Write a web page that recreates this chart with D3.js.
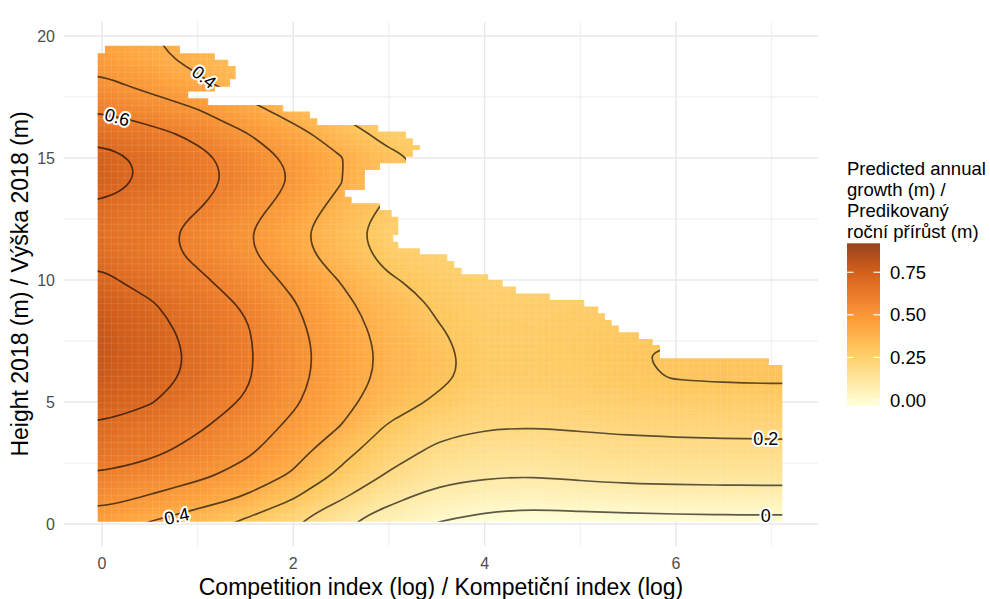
<!DOCTYPE html>
<html><head><meta charset="utf-8">
<script src="https://cdn.jsdelivr.net/npm/d3@7"></script>
<style>
html,body{margin:0;padding:0;background:#fff;}
svg{display:block;font-family:"Liberation Sans",Arial,Helvetica,sans-serif;}
</style></head><body>
<svg id="chart" width="990" height="599"></svg>
<script>
// ---------------- data ----------------
const xGrid = [0,0.5,1,1.5,2,2.5,3,3.5,4,4.5,5,5.5,6,6.5,7];
const yGrid = [0,1,2,3,4,5,6,7,8,9,10,11,12,13,14,15,16,17,18,19,20];
// predicted growth, one row per yGrid value, one column per xGrid value
const growth = [
 [0.445,0.39,0.337,0.277,0.2,0.109,0.047,-0.005,-0.036,-0.046,-0.041,-0.037,-0.034,-0.032,-0.031],
 [0.524,0.485,0.438,0.384,0.298,0.202,0.117,0.065,0.039,0.03,0.04,0.045,0.05,0.052,0.053],
 [0.593,0.556,0.52,0.467,0.388,0.279,0.189,0.13,0.11,0.104,0.118,0.127,0.131,0.133,0.134],
 [0.65,0.624,0.569,0.519,0.44,0.331,0.246,0.182,0.158,0.153,0.166,0.172,0.177,0.179,0.18],
 [0.692,0.652,0.613,0.553,0.48,0.398,0.289,0.231,0.206,0.203,0.209,0.216,0.218,0.221,0.222],
 [0.74,0.706,0.649,0.591,0.513,0.429,0.35,0.285,0.245,0.24,0.25,0.258,0.261,0.264,0.266],
 [0.77,0.742,0.676,0.611,0.53,0.446,0.375,0.322,0.268,0.265,0.272,0.29,0.3035,0.309,0.311],
 [0.785,0.746,0.68,0.614,0.533,0.45,0.378,0.322,0.27,0.268,0.278,0.298,0.304,0.306,0.306],
 [0.78,0.733,0.67,0.608,0.525,0.44,0.368,0.306,0.268,0.266,0.275,0.285,0.292,0.295,0.295],
 [0.76,0.709,0.65,0.589,0.507,0.422,0.351,0.288,0.262,0.26,0.265,0.27,0.275,0.277,0.277],
 [0.715,0.669,0.617,0.552,0.478,0.395,0.31,0.27,0.252,0.25,0.25,0.25,0.25,0.25,0.25],
 [0.682,0.636,0.583,0.518,0.438,0.352,0.271,0.25,0.24,0.235,0.235,0.235,0.235,0.235,0.235],
 [0.665,0.635,0.57,0.508,0.425,0.34,0.253,0.225,0.21,0.21,0.21,0.21,0.21,0.21,0.21],
 [0.69,0.648,0.606,0.54,0.46,0.368,0.283,0.25,0.23,0.21,0.2,0.2,0.2,0.2,0.2],
 [0.74,0.684,0.632,0.571,0.493,0.402,0.316,0.27,0.25,0.22,0.2,0.2,0.2,0.2,0.2],
 [0.735,0.679,0.625,0.56,0.481,0.404,0.322,0.275,0.25,0.22,0.2,0.2,0.2,0.2,0.2],
 [0.668,0.628,0.578,0.504,0.432,0.349,0.265,0.24,0.22,0.2,0.19,0.19,0.19,0.19,0.19],
 [0.59,0.545,0.5,0.432,0.356,0.278,0.21,0.18,0.16,0.16,0.16,0.16,0.16,0.16,0.16],
 [0.52,0.476,0.418,0.359,0.3,0.245,0.2,0.17,0.15,0.14,0.14,0.14,0.14,0.14,0.14],
 [0.47,0.42,0.381,0.323,0.27,0.225,0.185,0.16,0.14,0.13,0.13,0.13,0.13,0.13,0.13],
 [0.43,0.405,0.36,0.31,0.26,0.215,0.175,0.15,0.13,0.12,0.12,0.12,0.12,0.12,0.12]
];
const contourLevels = [0,0.1,0.2,0.3,0.4,0.5,0.6,0.7];
const fillRange = [-0.033, 0.92];
const paletteYlOrBr = ["#ffffd4","#fee391","#fec44f","#fe9929","#ec7014","#cc4c02","#8c2d04"];
// extent of the observed data (staircase outline): bands from the bottom up
const dataLeft = -0.045, dataBottom = 0.09;
const bandTop =   [6.52,6.79,7.34,7.58,7.86,8.13,8.36,8.64,8.91,9.18,9.45,9.73,10.0,10.23,10.50,10.78,11.05,11.30,11.57,11.84,12.59,12.87,13.14,13.41,13.69,14.51,14.78,15.05,15.33,15.53,15.81,16.08,16.35,16.63,16.90,17.17,17.45,17.72,17.92,18.23,18.77,19.02,19.29,19.60];
const bandRight = [7.112,6.973,5.833,5.757,5.614,5.404,5.328,5.258,5.188,5.042,4.683,4.328,4.189,4.038,3.760,3.683,3.610,3.324,3.097,3.045,3.097,3.028,2.906,2.610,2.540,2.749,2.906,3.178,3.251,3.324,3.251,3.178,2.888,2.251,2.174,1.895,1.111,0.902,1.181,1.338,1.398,1.32,1.181,0.815];
// the first data column stops one cell lower at the top
const firstColumnRight = 0.031, firstColumnTop = 19.29;
const xTicks = [0,2,4,6], xMinor = [1,3,5,7];
const yTicks = [0,5,10,15,20], yMinor = [2.5,7.5,12.5,17.5];
const legendTicks = [0,0.25,0.5,0.75];
const legendTitle = ["Predicted annual","growth (m) /","Predikovaný","roční přírůst (m)"];
const xTitle = "Competition index (log) / Kompetiční index (log)";
const yTitle = "Height 2018 (m) / Výška 2018 (m)";
const labelLevel = [0.6,0.4,0.2,0,0.4];
const labelX =     [0.16,1.07,6.94,6.94,0.78];
const labelY =     [16.68,18.32,3.52,0.35,0.33];
const labelAngle = [15,38,0,0,-12];

// ---------------- drawing ----------------
const svg = d3.select("#chart");
const W = 990, H = 599;
svg.append("rect").attr("width",W).attr("height",H).attr("fill","#fff");
const x = d3.scaleLinear().domain([-0.397, 7.485]).range([64, 818]);
const y = d3.scaleLinear().domain([-0.91, 20.58]).range([546.2, 21.8]);

// grid lines
const g = svg.append("g");
g.selectAll("line.xm").data(xMinor).join("line")
  .attr("x1",d=>x(d)).attr("x2",d=>x(d)).attr("y1",y.range()[1]).attr("y2",y.range()[0])
  .attr("stroke","#ececec").attr("stroke-width",0.9);
g.selectAll("line.ym").data(yMinor).join("line")
  .attr("y1",d=>y(d)).attr("y2",d=>y(d)).attr("x1",x.range()[0]).attr("x2",x.range()[1])
  .attr("stroke","#ececec").attr("stroke-width",0.9);
g.selectAll("line.xM").data(xTicks).join("line")
  .attr("x1",d=>x(d)).attr("x2",d=>x(d)).attr("y1",y.range()[1]).attr("y2",y.range()[0])
  .attr("stroke","#e8e8e8").attr("stroke-width",1.4);
g.selectAll("line.yM").data(yTicks).join("line")
  .attr("y1",d=>y(d)).attr("y2",d=>y(d)).attr("x1",x.range()[0]).attr("x2",x.range()[1])
  .attr("stroke","#e8e8e8").attr("stroke-width",1.4);

// mask of observed data
const defs = svg.append("defs");
let pts = [[dataLeft,dataBottom],[bandRight[0],dataBottom]];
bandTop.forEach((t,i)=>{
  pts.push([bandRight[i], t]);
  if (i < bandTop.length-1) pts.push([bandRight[i+1], t]);
});
pts.push([firstColumnRight, bandTop[bandTop.length-1]]);
pts.push([firstColumnRight, firstColumnTop]);
pts.push([dataLeft, firstColumnTop]);
const maskPath = "M" + pts.map(p=>x(p[0]).toFixed(2)+","+y(p[1]).toFixed(2)).join("L") + "Z";
defs.append("clipPath").attr("id","dataMask").append("path").attr("d",maskPath);

// padded value grid for d3.contours (edge values repeated)
const nx = xGrid.length, ny = yGrid.length, PX = nx + 2, PY = ny + 2;
const values = new Array(PX*PY);
for (let j=0;j<PY;j++) for (let i=0;i<PX;i++){
  const jj = Math.min(ny-1, Math.max(0, j-1)), ii = Math.min(nx-1, Math.max(0, i-1));
  values[j*PX+i] = growth[jj][ii];
}
const ddx = xGrid[1]-xGrid[0], ddy = yGrid[1]-yGrid[0];
const toX = u => xGrid[0] + (u - 1.5)*ddx;
const toY = v => yGrid[0] + (v - 1.5)*ddy;
const proj = d3.geoTransform({point(u,v){ this.stream.point(x(toX(u)), y(toY(v))); }});
const gpath = d3.geoPath(proj);

const fillScale = d3.scaleLinear()
  .domain(d3.range(7).map(i => fillRange[0] + i*(fillRange[1]-fillRange[0])/6))
  .range(paletteYlOrBr).interpolate(d3.interpolateLab).clamp(true);
const rasterAlpha = 0.9;

const step = 0.005;
const fillThresholds = d3.range(0, 175).map(i => -0.06 + i*step);
const contourGen = d3.contours().size([PX, PY]);
const fills = contourGen.thresholds(fillThresholds)(values);
const rasterG = svg.append("g").attr("clip-path","url(#dataMask)");
const raster = rasterG.append("g").attr("opacity", rasterAlpha);
raster.selectAll("path").data(fills).join("path")
  .attr("d", gpath)
  .attr("fill", d => fillScale(d.value + step/2));

// faint seams between raster cells (as in the rasterised original)
const cellW = (bandRight[0]-dataLeft)/100, cellH = (bandTop[bandTop.length-1]-dataBottom)/72;
const seams = rasterG.append("g").attr("stroke","#fff").attr("stroke-opacity",0.13).attr("stroke-width",0.8);
d3.range(1,100).forEach(k=>{
  const xv = x(dataLeft + k*cellW);
  seams.append("line").attr("x1",xv).attr("x2",xv).attr("y1",y(20)).attr("y2",y(0));
});
d3.range(1,72).forEach(k=>{
  const yv = y(dataBottom + k*cellH);
  seams.append("line").attr("y1",yv).attr("y2",yv).attr("x1",x(-0.1)).attr("x2",x(7.2));
});

// contour lines
const lineGen = d3.line().curve(d3.curveBasisClosed);
const lineSets = d3.contours().size([PX, PY]).thresholds(contourLevels)(values);
const gl = svg.append("g").attr("clip-path","url(#dataMask)");
lineSets.forEach(c => c.coordinates.forEach(poly => poly.forEach(ring => {
  const p = ring.slice(0,-1).map(([u,v]) => [x(toX(u)), y(toY(v))]);
  gl.append("path").attr("d", lineGen(p))
    .attr("fill","none").attr("stroke","#000").attr("stroke-opacity",0.64)
    .attr("stroke-width",1.7).attr("stroke-linejoin","round");
})));

// contour labels
const fmtLab = d3.format("~g");
svg.append("g").selectAll("text").data(labelLevel).join("text")
  .attr("transform",(d,i)=>`translate(${x(labelX[i])},${y(labelY[i])}) rotate(${labelAngle[i]})`)
  .attr("text-anchor","middle").attr("dy","0.36em")
  .attr("font-size",18).attr("fill","#000")
  .attr("stroke","#fff").attr("stroke-width",4).attr("stroke-linejoin","round")
  .attr("paint-order","stroke")
  .text(d=>fmtLab(d));

// axes text
svg.append("g").selectAll("text").data(xTicks).join("text")
  .attr("x",d=>x(d)).attr("y",569).attr("text-anchor","middle")
  .attr("font-size",16).attr("fill","#4d4d4d").text(d=>d);
svg.append("g").selectAll("text").data(yTicks).join("text")
  .attr("x",55).attr("y",d=>y(d)).attr("dy","0.36em").attr("text-anchor","end")
  .attr("font-size",16).attr("fill","#4d4d4d").text(d=>d);
svg.append("text").attr("x",(x.range()[0]+x.range()[1])/2).attr("y",595)
  .attr("text-anchor","middle").attr("font-size",23).attr("fill","#000").text(xTitle);
svg.append("text").attr("transform",`translate(28,${(y.range()[0]+y.range()[1])/2}) rotate(-90)`)
  .attr("text-anchor","middle").attr("font-size",23).attr("fill","#000").text(yTitle);

// legend
const lg = svg.append("g");
lg.selectAll("text.t").data(legendTitle).join("text")
  .attr("x",847).attr("y",(d,i)=>174.5+i*21.2).attr("font-size",18.5).attr("fill","#000").text(d=>d);
const ly = d3.scaleLinear().domain(fillRange).range([405.6, 243.3]);
const grad = defs.append("linearGradient").attr("id","lgGrad")
  .attr("x1",0).attr("y1",1).attr("x2",0).attr("y2",0);
d3.range(0,21).forEach(i=>{
  const v = fillRange[0] + i/20*(fillRange[1]-fillRange[0]);
  grad.append("stop").attr("offset",(i/20*100)+"%").attr("stop-color",fillScale(v));
});
const bx0 = 847, bw = 33;
lg.append("rect").attr("x",bx0).attr("y",ly(fillRange[1])).attr("width",bw)
  .attr("height",ly(fillRange[0])-ly(fillRange[1])).attr("fill","url(#lgGrad)")
  .attr("opacity", rasterAlpha);
lg.selectAll("line.a").data(legendTicks).join("line")
  .attr("x1",bx0).attr("x2",bx0+bw/5).attr("y1",d=>ly(d)).attr("y2",d=>ly(d))
  .attr("stroke","#fff").attr("stroke-width",1.1);
lg.selectAll("line.b").data(legendTicks).join("line")
  .attr("x1",bx0+bw*4/5).attr("x2",bx0+bw).attr("y1",d=>ly(d)).attr("y2",d=>ly(d))
  .attr("stroke","#fff").attr("stroke-width",1.1);
lg.selectAll("text.l").data(legendTicks).join("text")
  .attr("x",890).attr("y",d=>ly(d)).attr("dy","0.36em").attr("font-size",18.5)
  .attr("fill","#000").text(d=>d3.format(".2f")(d));
</script>
</body></html>
